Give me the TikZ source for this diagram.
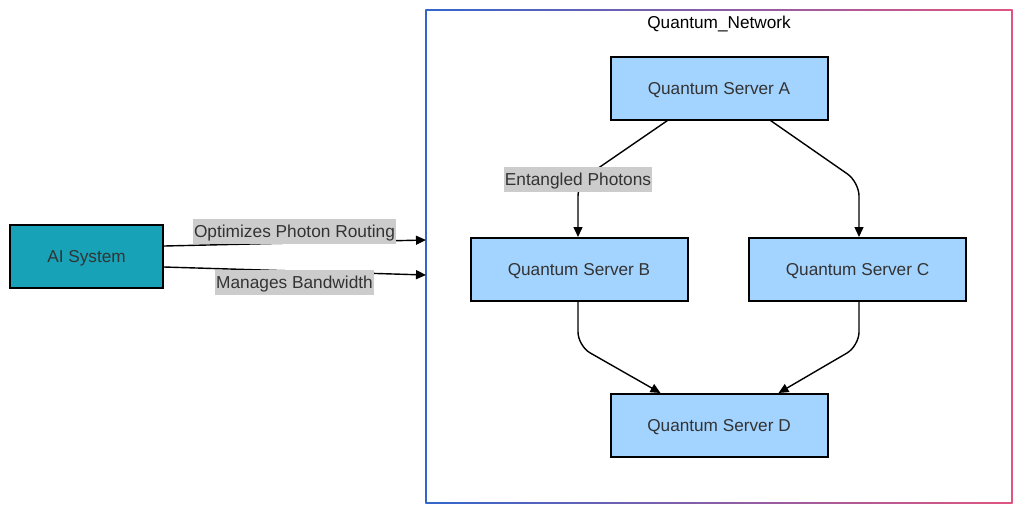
\documentclass[tikz,border=0pt]{standalone}
\usepackage{fontspec}
\setmainfont{Liberation Sans}
\usetikzlibrary{arrows.meta,calc}
\definecolor{txt}{HTML}{333333}
\definecolor{srv}{HTML}{A3D3FF}
\definecolor{ai}{HTML}{17A2B8}
\definecolor{lblbg}{HTML}{CCCCCC}
\definecolor{cblue}{HTML}{3366CC}
\definecolor{cpink}{HTML}{E05580}
\tikzset{
  server/.style={draw=black, line width=2pt, fill=srv, minimum width=217pt, minimum height=63pt, inner sep=0pt, text=txt, text height=12.4pt, text depth=0pt, font=\fontsize{17.2}{20}\selectfont},
  aibox/.style={server, fill=ai, minimum width=153pt},
  lbl/.style={fill=lblbg, text=txt, inner xsep=1pt, inner ysep=6pt, text height=12.4pt, text depth=0pt, font=\fontsize{17.3}{20}\selectfont},
  conn/.style={line width=1.4pt, -{Triangle[length=10pt,width=9pt]}, rounded corners=14pt},
}
\begin{document}
\begin{tikzpicture}[x=1pt,y=-1pt]
\useasboundingbox (0,0) rectangle (1024,515);
% cluster border with gradient
\draw[cblue, line width=1.3pt] (426,10) -- (426,503);
\draw[cpink, line width=1.3pt] (1012,10) -- (1012,503);
\shade[left color=cblue, right color=cpink] (425.35,9.35) rectangle (1012.65,10.65);
\shade[left color=cblue, right color=cpink] (425.35,502.35) rectangle (1012.65,503.65);
\node[font=\fontsize{17.2}{20}\selectfont, text=black, text height=12.4pt, text depth=0pt] (title) at (719,22) {Quantum\_Network};
% nodes
\node[aibox] (ai) at (86.5,256.5) {AI System};
\node[server] (a) at (719,88) {Quantum Server A};
\node[server] (b) at (579,269.5) {Quantum Server B};
\node[server] (c) at (857.5,269.5) {Quantum Server C};
\node[server] (d) at (719,425.5) {Quantum Server D};
\coordinate (e1) at (426,240);
\coordinate (e2) at (426,275);
% edges
\draw[conn] ($(a.south west)+(58,0)$) -- (578,182) -- (b.north -| 578,0);
\node[lbl] (l1) at (578,179.5) {Entangled Photons};
\draw[conn] ($(a.south east)+(-58,0)$) -- (859,182) -- (c.north -| 859,0);
\draw[conn] (b.south -| 578,0) -- (578,346) -- ($(d.north west)+(51,0)$);
\draw[conn] (c.south -| 859,0) -- (859,346) -- ($(d.north east)+(-50,0)$);
\draw[conn] (ai.east |- 0,246) -- (e1);
\node[lbl] (l2) at (294.5,231.5) {Optimizes Photon Routing};
\draw[conn] (ai.east |- 0,267) -- (e2);
\node[lbl] (l3) at (294.5,282.5) {Manages Bandwidth};
\end{tikzpicture}
\end{document}
